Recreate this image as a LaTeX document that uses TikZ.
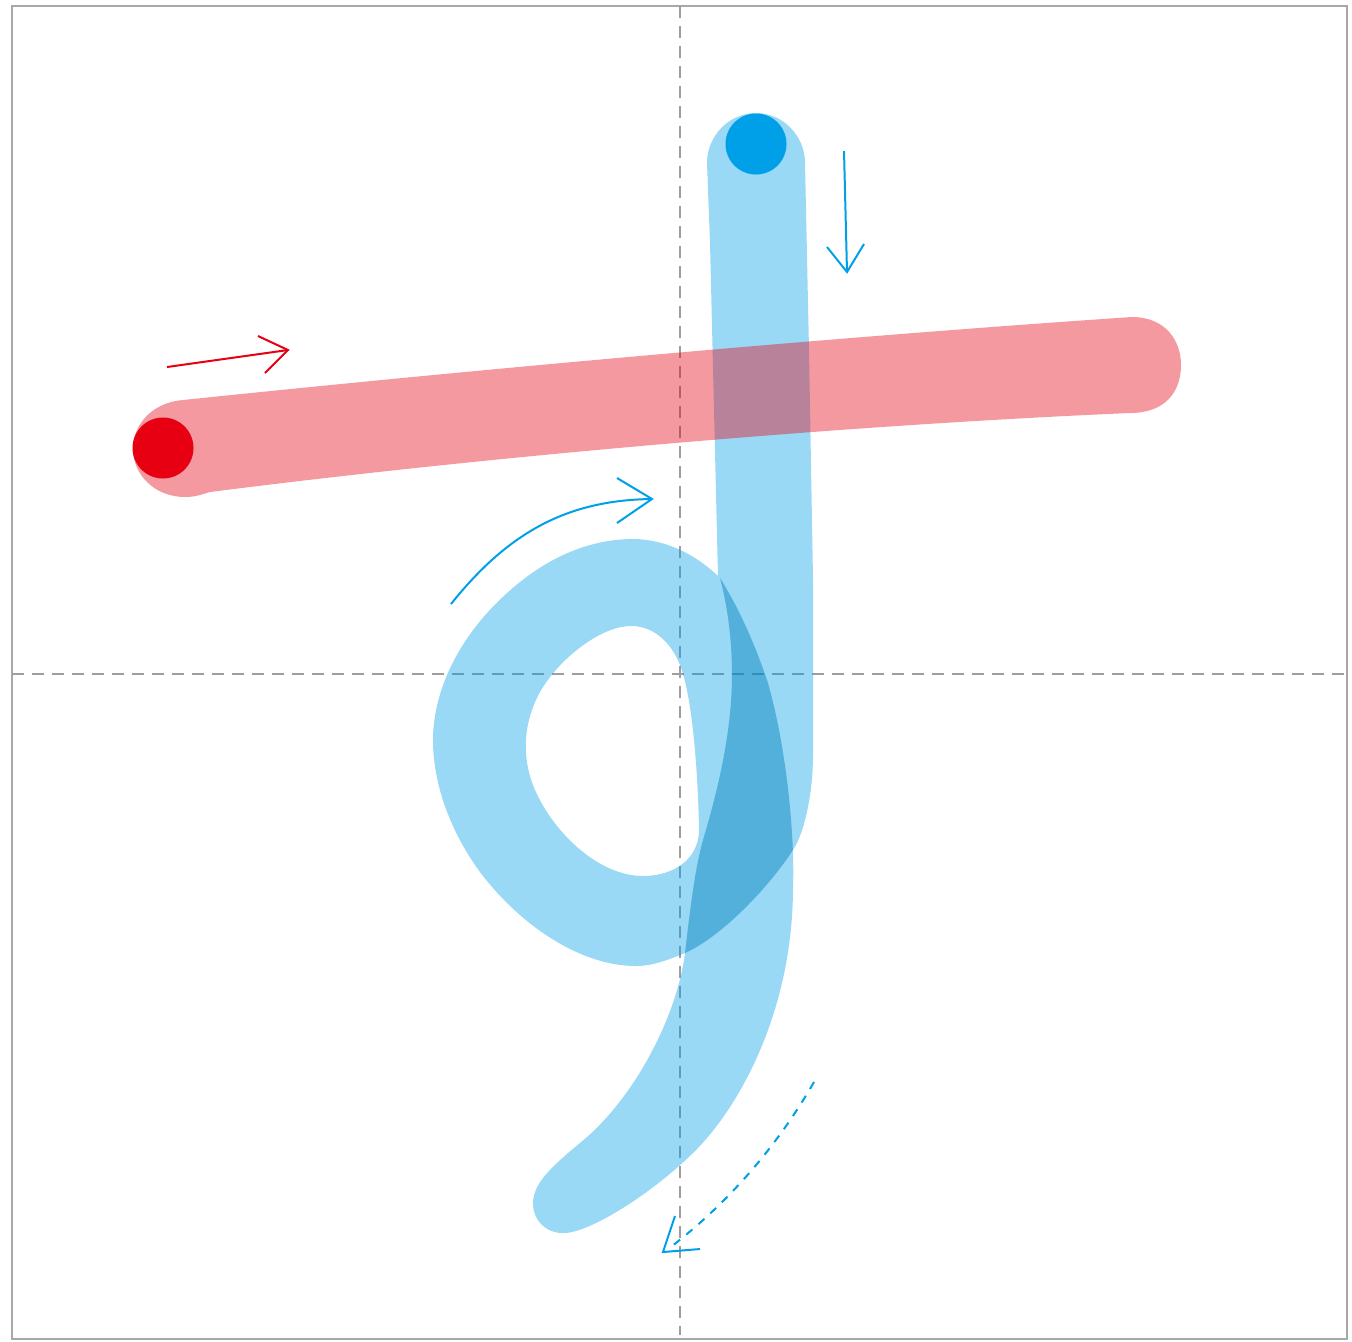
\documentclass[tikz,border=0pt]{standalone}
\definecolor{kred}{HTML}{E60012}
\definecolor{kblue}{HTML}{00A0E9}
\definecolor{guidegray}{HTML}{9E9E9E}
\definecolor{framegray}{HTML}{A8A8A8}
\tikzset{
  strokeR/.style={fill=kred, fill opacity=0.4},
  strokeB/.style={fill=kblue, fill opacity=0.4},
  guideline/.style={draw=guidegray, line width=1pt, dash pattern=on 6pt off 4pt},
  dirline/.style={line width=1pt},
}
\newcommand\kAouter{(718,577) -- (710,243) -- (707,163)
  .. controls (707,136) and (729,113) .. (756,113)
  .. controls (783,113) and (805,136) .. (805,163)
  -- (809,350) -- (813,580) -- (813,755)
  .. controls (813,790) and (806,825) .. (796,845)
  .. controls (775,880) and (725,935) .. (685,953)
  .. controls (668,960) and (652,966) .. (636,966)
  .. controls (580,966) and (520,925) .. (480,872)
  .. controls (455,838) and (433,790) .. (433,740)
  .. controls (433,690) and (460,630) .. (520,582)
  .. controls (560,550) and (600,539) .. (633,539)
  .. controls (663,539) and (695,553) .. (720,578) -- cycle}
\newcommand\kAhole{(631,626)
  .. controls (652,626) and (670,640) .. (680,665)
  .. controls (692,695) and (698,770) .. (699,830)
  .. controls (699,858) and (675,876) .. (643,876)
  .. controls (600,876) and (555,835) .. (535,790)
  .. controls (522,760) and (522,725) .. (540,692)
  .. controls (558,660) and (600,626) .. (631,626) -- cycle}
\newcommand\kBpath{(720,578)
  .. controls (730,615) and (735,665) .. (730,713)
  .. controls (726,755) and (715,800) .. (703,840)
  .. controls (695,868) and (690,910) .. (685,953)
  .. controls (678,1010) and (640,1090) .. (587,1137)
  .. controls (560,1160) and (533,1180) .. (533,1203)
  .. controls (533,1222) and (548,1234) .. (565,1233)
  .. controls (590,1232) and (650,1195) .. (693,1153)
  .. controls (740,1107) and (793,1010) .. (793,887)
  .. controls (795,830) and (785,740) .. (767,680)
  .. controls (755,645) and (740,610) .. (720,578) -- cycle}
\begin{document}
\begin{tikzpicture}[x=0.5pt,y=-0.5pt]
\useasboundingbox (0,0) rectangle (1352,1341);
\fill[white] (0,0) rectangle (1352,1341);
% frame
\draw[framegray, line width=1pt] (12.3,6) rectangle (1346.7,1339.3);
% guide lines
\coordinate (vtop) at (680,6);
\coordinate (vbot) at (680,1335);
\coordinate (hl) at (12,674);
\coordinate (hr) at (1347,674);
\draw[guideline] (vtop) -- (vbot);
\draw[guideline] (hl) -- (hr);
% stroke 2, piece A: stem + loop
\fill[strokeB, even odd rule] \kAouter \kAhole;
% stroke 2, piece B: tail
\fill[strokeB] \kBpath;
% deepen the overlap of the two pieces
\begin{scope}
  \clip \kAouter;
  \fill[black, fill opacity=0.09] \kBpath;
\end{scope}
% stroke 1
\fill[strokeR] (183,400) .. controls (500,367) and (850,336) .. (1132,317)
  .. controls (1165,317) and (1181,340) .. (1181,365)
  .. controls (1181,392) and (1165,413) .. (1130,413)
  .. controls (850,425) and (500,455) .. (210,492)
  .. controls (200,495) and (195,497) .. (185,497)
  .. controls (155,497) and (133,475) .. (133,449)
  .. controls (133,422) and (155,402) .. (183,400) -- cycle;
% start dots
\fill[kred] (163,448) circle[radius=30.5];
\fill[kblue] (756,144) circle[radius=30.5];
% direction arrows
\coordinate (r0) at (167,367);
\coordinate (r1) at (288,350);
\coordinate (ra) at (258,336);
\coordinate (rb) at (265,373);
\draw[kred, dirline] (r0) -- (r1);
\draw[kred, dirline] (ra) -- (r1) -- (rb);
\coordinate (b0) at (844,151);
\coordinate (b1) at (847,272);
\coordinate (ba) at (827,247);
\coordinate (bb) at (864,244);
\draw[kblue, dirline] (b0) -- (b1);
\draw[kblue, dirline] (ba) -- (b1) -- (bb);
\coordinate (l0) at (451,604);
\coordinate (l1) at (652,499);
\coordinate (la) at (617,478);
\coordinate (lb) at (617,523);
\draw[kblue, dirline] (l0) .. controls (510,530) and (570,500) .. (l1);
\draw[kblue, dirline] (la) -- (l1) -- (lb);
\coordinate (d0) at (814,1082);
\coordinate (d1) at (672,1246);
\coordinate (dt) at (663,1252);
\coordinate (da) at (675,1216);
\coordinate (db) at (700,1249);
\draw[kblue, dirline, dash pattern=on 4pt off 4pt] (d0) .. controls (775,1150) and (725,1205) .. (d1);
\draw[kblue, dirline] (da) -- (dt) -- (db);
\end{tikzpicture}
\end{document}
